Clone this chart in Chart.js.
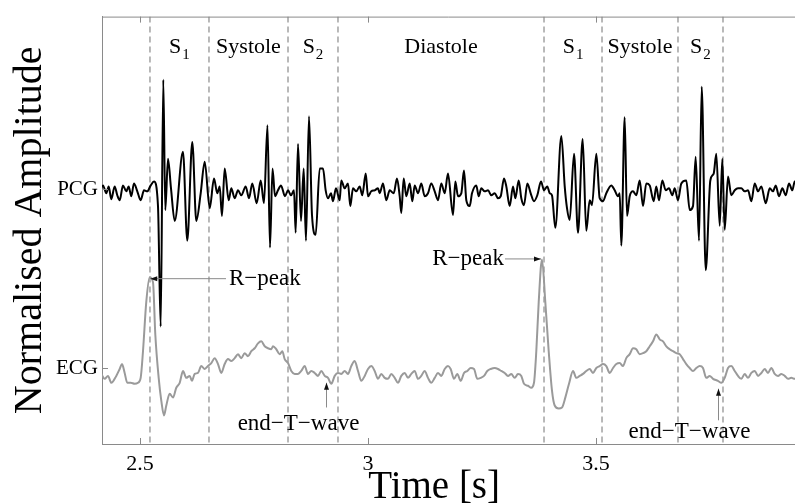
<!DOCTYPE html>
<html>
<head>
<meta charset="utf-8">
<script src="https://cdn.jsdelivr.net/npm/chart.js@4.4.0/dist/chart.umd.min.js"></script>
<style>
  html, body { margin: 0; padding: 0; background: #fff; }
</style>
</head>
<body>
<canvas id="chart" width="795" height="504"></canvas>
<script>
// PCG trace: [time (s), amplitude around its own baseline]
const pcg = [
  [2.4116, -0.04], [2.4189, 0.04], [2.4261, -0.04], [2.4314, 0.03], [2.4371, -0.10], [2.4445, 0.03],
  [2.4502, -0.06], [2.4555, -0.11], [2.4627, 0.04], [2.4700, -0.02], [2.4752, 0.03], [2.4809, -0.07],
  [2.4868, 0.06], [2.4941, -0.02], [2.5015, -0.11], [2.5088, -0.01], [2.5160, -0.02], [2.5235, 0.04],
  [2.5307, 0.08], [2.5395, -0.17], [2.5454, -1.39], [2.5511, 1.11], [2.5555, -0.21], [2.5614, 0.31],
  [2.5680, 0.01], [2.5761, -0.32], [2.5943, 0.38], [2.6037, -0.52], [2.6147, 0.48], [2.6235, -0.32],
  [2.6331, -0.04], [2.6419, 0.28], [2.6529, -0.19], [2.6623, 0.11], [2.6695, -0.04], [2.6748, 0.03],
  [2.6798, -0.27], [2.6857, 0.21], [2.6945, -0.11], [2.7002, 0.01], [2.7077, -0.09], [2.7149, -0.01],
  [2.7222, -0.06], [2.7318, 0.03], [2.7390, -0.09], [2.7463, 0.06], [2.7559, -0.14], [2.7647, 0.09],
  [2.7719, -0.14], [2.7796, 0.65], [2.7851, -0.59], [2.7906, 0.21], [2.7961, -0.07], [2.8026, -0.01],
  [2.8092, 0.04], [2.8180, -0.07], [2.8246, -0.01], [2.8311, -0.06], [2.8377, -0.01], [2.8414, -0.44],
  [2.8465, 0.46], [2.8531, -0.32], [2.8590, 0.21], [2.8640, -0.52], [2.8706, 0.74], [2.8772, -0.26],
  [2.8853, -0.46], [2.8941, 0.21], [2.9013, 0.21], [2.9072, -0.01], [2.9123, -0.09], [2.9189, -0.04],
  [2.9232, -0.12], [2.9298, 0.01], [2.9379, -0.11], [2.9414, 0.09], [2.9489, 0.01], [2.9561, 0.06],
  [2.9612, -0.17], [2.9671, 0.01], [2.9743, -0.02], [2.9818, 0.03], [2.9875, -0.06], [2.9950, 0.16],
  [3.0000, -0.07], [3.0072, -0.02], [3.0147, -0.01], [3.0219, 0.01], [3.0256, -0.04], [3.0329, 0.06],
  [3.0401, -0.11], [3.0476, -0.01], [3.0564, -0.04], [3.0636, 0.11], [3.0695, -0.07], [3.0730, -0.24],
  [3.0783, 0.11], [3.0840, -0.07], [3.0915, 0.06], [3.0972, -0.12], [3.1024, 0.04], [3.1097, -0.04],
  [3.1169, 0.06], [3.1243, -0.07], [3.1316, -0.04], [3.1388, 0.06], [3.1463, -0.02], [3.1535, -0.11],
  [3.1608, 0.06], [3.1682, -0.04], [3.1754, 0.16], [3.1864, -0.26], [3.1915, 0.08], [3.1974, -0.07],
  [3.2046, -0.04], [3.2105, 0.19], [3.2156, -0.11], [3.2230, -0.17], [3.2281, -0.04], [3.2375, 0.04],
  [3.2428, -0.07], [3.2485, 0.01], [3.2559, -0.02], [3.2632, -0.01], [3.2704, -0.06], [3.2779, -0.04],
  [3.2851, -0.09], [3.2910, -0.07], [3.2983, 0.11], [3.3033, 0.03], [3.3108, -0.17], [3.3180, 0.03],
  [3.3231, -0.09], [3.3305, 0.09], [3.3362, -0.09], [3.3421, -0.16], [3.3494, 0.06], [3.3568, -0.04],
  [3.3640, -0.12], [3.3713, -0.06], [3.3794, 0.08], [3.3860, -0.01], [3.3932, 0.03], [3.3985, -0.04],
  [3.4035, -0.06], [3.4108, -0.39], [3.4240, 0.54], [3.4314, 0.03], [3.4364, -0.19], [3.4423, -0.31],
  [3.4518, 0.36], [3.4605, -0.44], [3.4708, 0.51], [3.4787, -0.42], [3.4862, -0.11], [3.4912, -0.16],
  [3.5007, 0.36], [3.5081, -0.09], [3.5154, -0.12], [3.5226, -0.04], [3.5336, 0.04], [3.5410, -0.01],
  [3.5482, -0.07], [3.5520, -0.04], [3.5555, -0.57], [3.5629, 0.73], [3.5680, -0.27], [3.5739, -0.07],
  [3.5811, -0.02], [3.5884, -0.06], [3.5958, 0.09], [3.6031, -0.17], [3.6103, 0.06], [3.6178, 0.04],
  [3.6265, -0.12], [3.6322, 0.03], [3.6382, -0.11], [3.6454, 0.09], [3.6529, -0.01], [3.6601, 0.01],
  [3.6673, -0.06], [3.6726, 0.01], [3.6798, -0.11], [3.6871, 0.06], [3.6980, 0.09], [3.7055, -0.21],
  [3.7127, -0.17], [3.7186, 0.33], [3.7259, -0.52], [3.7318, 1.04], [3.7406, -0.82], [3.7507, 0.09],
  [3.7581, 0.16], [3.7638, 0.36], [3.7713, -0.37], [3.7770, 0.31], [3.7822, -0.41], [3.7895, 0.13],
  [3.7967, -0.06], [3.8042, -0.01], [3.8114, 0.01], [3.8187, 0.01], [3.8261, -0.02], [3.8334, -0.01],
  [3.8406, -0.12], [3.8481, 0.06], [3.8553, -0.02], [3.8626, 0.03], [3.8722, -0.14], [3.8810, 0.01],
  [3.8882, -0.02], [3.8941, 0.04], [3.9013, -0.07], [3.9086, 0.01], [3.9160, -0.06], [3.9232, 0.06],
  [3.9305, -0.01], [3.9358, 0.08], [3.9409, 0.01]
];

// ECG trace: [time (s), amplitude around its own baseline]
const ecg = [
  [2.4079, -0.01], [2.4151, -0.06], [2.4226, -0.11], [2.4298, -0.08], [2.4371, -0.15], [2.4480, -0.08],
  [2.4555, -0.01], [2.4605, 0.04], [2.4664, -0.05], [2.4721, -0.15], [2.4796, -0.15], [2.4884, -0.16],
  [2.4956, -0.15], [2.5015, -0.10], [2.5066, 0.17], [2.5138, 0.67], [2.5213, 0.92], [2.5285, 0.87],
  [2.5336, 0.34], [2.5410, -0.10], [2.5467, -0.33], [2.5526, -0.48], [2.5577, -0.38], [2.5651, -0.26],
  [2.5724, -0.30], [2.5796, -0.20], [2.5871, -0.15], [2.5943, -0.03], [2.6015, -0.10], [2.6090, -0.08],
  [2.6140, -0.13], [2.6200, -0.06], [2.6272, -0.05], [2.6344, 0.02], [2.6419, -0.01], [2.6491, 0.02],
  [2.6564, 0.05], [2.6638, 0.10], [2.6711, 0.04], [2.6783, -0.05], [2.6857, 0.04], [2.6930, 0.09],
  [2.7002, 0.07], [2.7077, 0.10], [2.7149, 0.14], [2.7222, 0.10], [2.7296, 0.15], [2.7368, 0.12],
  [2.7441, 0.17], [2.7515, 0.20], [2.7588, 0.25], [2.7660, 0.27], [2.7735, 0.22], [2.7807, 0.20],
  [2.7879, 0.19], [2.7917, 0.22], [2.7989, 0.19], [2.8064, 0.14], [2.8121, 0.17], [2.8173, 0.09],
  [2.8246, 0.05], [2.8318, -0.03], [2.8393, -0.06], [2.8465, -0.06], [2.8537, -0.03], [2.8612, 0.02],
  [2.8684, -0.06], [2.8757, -0.03], [2.8831, -0.05], [2.8904, -0.08], [2.8976, -0.03], [2.9051, -0.08],
  [2.9123, -0.10], [2.9195, -0.16], [2.9270, -0.08], [2.9342, -0.05], [2.9415, -0.06], [2.9489, -0.03],
  [2.9561, -0.06], [2.9634, 0.02], [2.9708, 0.07], [2.9781, -0.03], [2.9853, -0.13], [2.9928, -0.08],
  [3.0000, -0.01], [3.0072, 0.02], [3.0147, -0.03], [3.0219, -0.11], [3.0292, -0.06], [3.0366, -0.10],
  [3.0439, -0.11], [3.0511, -0.06], [3.0586, -0.10], [3.0658, -0.15], [3.0730, -0.08], [3.0805, -0.05],
  [3.0877, -0.10], [3.0950, -0.06], [3.1024, -0.03], [3.1097, -0.11], [3.1169, -0.08], [3.1243, -0.03],
  [3.1316, -0.10], [3.1388, -0.15], [3.1463, -0.10], [3.1535, -0.05], [3.1608, -0.08], [3.1682, -0.01],
  [3.1754, 0.02], [3.1813, -0.01], [3.1886, -0.11], [3.1958, -0.06], [3.2033, -0.13], [3.2105, -0.05],
  [3.2178, -0.03], [3.2252, 0.00], [3.2325, -0.01], [3.2397, -0.11], [3.2472, -0.10], [3.2544, -0.08],
  [3.2616, -0.03], [3.2691, -0.01], [3.2779, 0.00], [3.2851, -0.01], [3.2923, -0.03], [3.2998, -0.05],
  [3.3070, -0.08], [3.3143, -0.06], [3.3217, -0.10], [3.3289, -0.06], [3.3362, -0.08], [3.3421, -0.16],
  [3.3509, -0.18], [3.3581, -0.20], [3.3640, -0.15], [3.3691, 0.17], [3.3744, 0.67], [3.3816, 1.10],
  [3.3888, 0.67], [3.3963, 0.17], [3.4035, -0.23], [3.4094, -0.38], [3.4182, -0.41], [3.4254, -0.40],
  [3.4327, -0.30], [3.4408, -0.16], [3.4496, -0.03], [3.4568, -0.10], [3.4643, -0.08], [3.4715, -0.06],
  [3.4787, -0.03], [3.4862, -0.01], [3.4934, -0.05], [3.5007, 0.00], [3.5081, 0.02], [3.5154, 0.04],
  [3.5226, 0.02], [3.5301, -0.05], [3.5373, 0.00], [3.5445, 0.04], [3.5520, 0.05], [3.5592, 0.02],
  [3.5664, 0.10], [3.5739, 0.14], [3.5811, 0.20], [3.5884, 0.19], [3.5958, 0.14], [3.6031, 0.15],
  [3.6103, 0.17], [3.6178, 0.22], [3.6250, 0.27], [3.6322, 0.34], [3.6397, 0.29], [3.6469, 0.27],
  [3.6542, 0.22], [3.6616, 0.19], [3.6689, 0.17], [3.6761, 0.15], [3.6836, 0.14], [3.6908, 0.09],
  [3.6980, 0.04], [3.7055, 0.00], [3.7127, -0.03], [3.7200, 0.00], [3.7274, 0.02], [3.7346, 0.00],
  [3.7419, -0.10], [3.7493, -0.08], [3.7566, -0.11], [3.7675, -0.13], [3.7748, -0.15], [3.7822, -0.10],
  [3.7895, 0.00], [3.7967, 0.02], [3.8042, -0.03], [3.8114, -0.08], [3.8187, -0.11], [3.8261, -0.06],
  [3.8334, -0.10], [3.8406, -0.05], [3.8481, -0.03], [3.8553, -0.08], [3.8626, -0.05], [3.8700, -0.01],
  [3.8772, -0.05], [3.8845, 0.00], [3.8919, -0.06], [3.8991, -0.08], [3.9064, -0.06], [3.9138, -0.08],
  [3.9211, -0.11], [3.9283, -0.10], [3.9358, -0.11], [3.9409, -0.10]
];

// segmentation boundaries (s) and the name of each interval between them
const phaseBounds = [2.5219, 2.6513, 2.8246, 2.9342, 3.3860, 3.5132, 3.6798, 3.7785];
const phaseNames = ['S1', 'Systole', 'S2', 'Diastole', 'S1', 'Systole', 'S2'];

// axis ticks
const xTicks = [2.5, 3, 3.5];
const xTickLabels = ['2.5', '3', '3.5'];
const yTickLabels = ['ECG', 'PCG'];

// vertical offsets of the two traces
const ECG_BASE = -0.905;
const PCG_BASE = 0.905;
const X_MIN = 2.4167, X_MAX = 3.9364;
const Y_MIN = -1.675, Y_MAX = 2.655;

// annotations (times in s, heights relative to the ECG baseline)
const rPeakNotes = [
  { tipT: 2.5225, tipV: 0.91, tailT: 2.6886, textSide: 'right' },
  { tipT: 3.3794, tipV: 1.11, tailT: 3.3004, textSide: 'left' }
];
const endTNotes = [
  { t: 2.9079, tipV: -0.15, tailV: -0.40, textT: 2.8476, textV: -0.63 },
  { t: 3.7675, tipV: -0.21, tailV: -0.53, textT: 3.7050, textV: -0.71 }
];
const X_TITLE_AT = 3.145;

const SERIF = '"Liberation Serif", "Times New Roman", serif';
const AXIS_GREY = '#8a8a8a';
Chart.defaults.font.family = SERIF;
Chart.defaults.color = '#000';

const pcgPoints = pcg.map(p => ({ x: p[0], y: PCG_BASE + p[1] }));
const ecgPoints = ecg.map(p => ({ x: p[0], y: ECG_BASE + p[1] }));
const boundPoints = phaseBounds.flatMap(t => [{ x: t, y: Y_MAX }, { x: t, y: Y_MIN }, { x: t, y: null }]);

function arrowHead(ctx, x0, y0, x1, y1) {
    // filled head at (x1, y1) pointing away from (x0, y0)
    const a = Math.atan2(y1 - y0, x1 - x0);
    const len = 7, half = 2.5;
    ctx.beginPath();
    ctx.moveTo(x1, y1);
    ctx.lineTo(x1 - len * Math.cos(a) + half * Math.sin(a), y1 - len * Math.sin(a) - half * Math.cos(a));
    ctx.lineTo(x1 - len * Math.cos(a) - half * Math.sin(a), y1 - len * Math.sin(a) + half * Math.cos(a));
    ctx.closePath();
    ctx.fill();
}

const notesPlugin = {
    id: 'notes',
    afterDatasetsDraw(chart) {
        const { ctx, chartArea: a, scales: { x, y } } = chart;
        ctx.save();
        // top frame and inward ticks
        ctx.strokeStyle = AXIS_GREY;
        ctx.lineWidth = 1;
        ctx.beginPath();
        ctx.moveTo(a.left, a.top + 0.5);
        ctx.lineTo(a.right, a.top + 0.5);
        xTicks.forEach(t => {
            const px = Math.round(x.getPixelForValue(t)) + 0.5;
            ctx.moveTo(px, a.bottom); ctx.lineTo(px, a.bottom - 6);
            ctx.moveTo(px, a.top); ctx.lineTo(px, a.top + 6);
        });
        [ECG_BASE, PCG_BASE].forEach(v => {
            const py = Math.round(y.getPixelForValue(v)) + 0.5;
            ctx.moveTo(a.left, py); ctx.lineTo(a.left + 6, py);
        });
        ctx.stroke();

        // phase names between the boundaries
        ctx.fillStyle = '#000';
        ctx.textBaseline = 'alphabetic';
        const base = a.top + 36;
        for (let i = 0; i < phaseNames.length; i++) {
            const cx = (x.getPixelForValue(phaseBounds[i]) + x.getPixelForValue(phaseBounds[i + 1])) / 2;
            const m = phaseNames[i].match(/^S(\d)$/);
            if (m) {
                ctx.font = '22px ' + SERIF;
                const w1 = ctx.measureText('S').width;
                ctx.font = '15px ' + SERIF;
                const w2 = ctx.measureText(m[1]).width;
                const left = cx - (w1 + 1 + w2) / 2;
                ctx.textAlign = 'left';
                ctx.font = '22px ' + SERIF;
                ctx.fillText('S', left, base);
                ctx.font = '15px ' + SERIF;
                ctx.fillText(m[1], left + w1 + 1, base + 6);
            } else {
                ctx.font = '22px ' + SERIF;
                ctx.textAlign = 'center';
                ctx.fillText(phaseNames[i], cx, base);
            }
        }

        // R-peak arrows
        ctx.font = '23px ' + SERIF;
        rPeakNotes.forEach(n => {
            const tipX = x.getPixelForValue(n.tipT);
            const yy = y.getPixelForValue(ECG_BASE + n.tipV);
            const tailX = x.getPixelForValue(n.tailT);
            ctx.strokeStyle = '#8a8a8a';
            ctx.beginPath();
            ctx.moveTo(tailX, yy + 0.5); ctx.lineTo(tipX, yy + 0.5);
            ctx.stroke();
            ctx.fillStyle = '#111';
            arrowHead(ctx, tailX, yy + 0.5, tipX, yy + 0.5);
            ctx.fillStyle = '#000';
            if (n.textSide === 'right') {
                ctx.textAlign = 'left';
                ctx.fillText('R\u2212peak', tailX + 3, yy + 7);
            } else {
                ctx.textAlign = 'right';
                ctx.fillText('R\u2212peak', tailX - 1, yy + 7);
            }
        });

        // end-T-wave arrows
        endTNotes.forEach(n => {
            const px = Math.round(x.getPixelForValue(n.t)) + 0.5;
            const tipY = y.getPixelForValue(ECG_BASE + n.tipV);
            const tailY = y.getPixelForValue(ECG_BASE + n.tailV);
            ctx.strokeStyle = '#8a8a8a';
            ctx.beginPath();
            ctx.moveTo(px, tailY); ctx.lineTo(px, tipY);
            ctx.stroke();
            ctx.fillStyle = '#111';
            arrowHead(ctx, px, tailY, px, tipY);
            ctx.fillStyle = '#000';
            ctx.textAlign = 'center';
            ctx.fillText('end\u2212T\u2212wave', x.getPixelForValue(n.textT), y.getPixelForValue(ECG_BASE + n.textV));
        });

        // x axis title
        ctx.font = '39px ' + SERIF;
        ctx.textAlign = 'center';
        ctx.fillText('Time [s]', x.getPixelForValue(X_TITLE_AT), 498);
        ctx.restore();
    }
};

new Chart(document.getElementById('chart').getContext('2d'), {
    type: 'line',
    data: {
        datasets: [{
            label: 'PCG',
            data: pcgPoints,
            borderColor: '#000',
            borderWidth: 2,
            pointRadius: 0,
            cubicInterpolationMode: 'monotone'
        }, {
            label: 'ECG',
            data: ecgPoints,
            borderColor: '#9a9a9a',
            borderWidth: 2,
            pointRadius: 0,
            cubicInterpolationMode: 'monotone'
        }, {
            label: 'segments',
            data: boundPoints,
            borderColor: '#8a8a8a',
            borderWidth: 1.2,
            borderDash: [6, 4],
            pointRadius: 0,
            tension: 0,
            spanGaps: false
        }]
    },
    options: {
        responsive: false,
        animation: false,
        layout: { padding: { top: 11, left: 0, right: 0, bottom: 0 } },
        plugins: {
            legend: { display: false },
            tooltip: { enabled: false }
        },
        scales: {
            x: {
                type: 'linear',
                min: X_MIN,
                max: X_MAX,
                afterBuildTicks: s => { s.ticks = xTicks.map(v => ({ value: v })); },
                afterFit: s => { s.height = 60; },
                ticks: {
                    callback: (v, i) => xTickLabels[i],
                    font: { size: 22 },
                    color: '#000',
                    padding: 7,
                    maxRotation: 0,
                    autoSkip: false
                },
                grid: { display: false, drawTicks: false },
                border: { display: true, color: AXIS_GREY, width: 1 }
            },
            y: {
                type: 'linear',
                min: Y_MIN,
                max: Y_MAX,
                afterBuildTicks: s => { s.ticks = [ECG_BASE, PCG_BASE].map(v => ({ value: v })); },
                afterFit: s => { s.width = 102; },
                ticks: {
                    callback: (v, i) => yTickLabels[i],
                    font: { size: 21 },
                    color: '#000',
                    padding: 4
                },
                grid: { display: false, drawTicks: false },
                border: { display: true, color: AXIS_GREY, width: 1 },
                title: {
                    display: true,
                    text: 'Normalised Amplitude',
                    font: { size: 40 },
                    color: '#000',
                    padding: { top: 6, bottom: 0 }
                }
            }
        }
    },
    plugins: [notesPlugin]
});
</script>
</body>
</html>
